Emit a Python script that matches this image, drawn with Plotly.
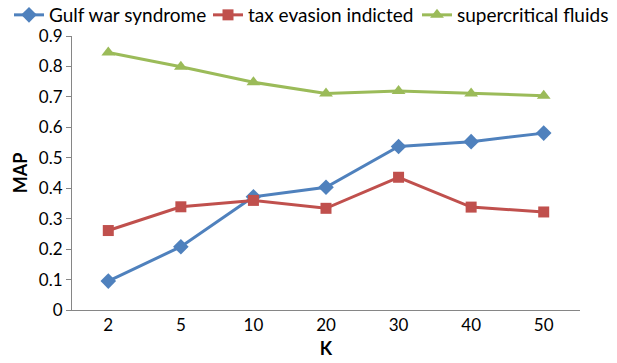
import plotly.graph_objects as go

k_labels = ["2", "5", "10", "20", "30", "40", "50"]
gulf_war = [0.095, 0.208, 0.372, 0.403, 0.537, 0.553, 0.581]
tax_evasion = [0.261, 0.339, 0.360, 0.334, 0.436, 0.338, 0.322]
supercritical = [0.846, 0.799, 0.748, 0.711, 0.719, 0.711, 0.704]

series = [
    ("Gulf war syndrome", gulf_war, "#4F81BD", "diamond", 12, "legend"),
    ("tax evasion indicted", tax_evasion, "#C0504D", "square", 11, "legend2"),
    ("supercritical fluids", supercritical, "#9BBB59", "triangle-up", 12, "legend3"),
]

font_family = "Lato, Open Sans, sans-serif"
W, H = 617, 363

fig = go.Figure()
for name, vals, color, symbol, size, leg in series:
    fig.add_trace(go.Scatter(
        x=k_labels, y=vals, name=name, mode="lines+markers",
        line=dict(color=color, width=3),
        marker=dict(symbol=symbol, size=size, color=color),
        legend=leg, showlegend=True,
    ))

# one legend box per series so the row sits on a single line
legend_left_px = [9, 208, 417]
legend_center_px = 15
legend_style = dict(
    orientation="h", y=1 - legend_center_px / H, xref="container",
    yref="container", xanchor="left", yanchor="middle",
    font=dict(size=19), itemwidth=30, bgcolor="rgba(0,0,0,0)",
)

fig.update_layout(
    width=W, height=H, showlegend=True,
    margin=dict(l=72, r=37, t=36, b=53, autoexpand=False),
    paper_bgcolor="white", plot_bgcolor="white",
    font=dict(family=font_family, size=17, color="#000000"),
    legend=dict(x=legend_left_px[0] / W, **legend_style),
    legend2=dict(x=legend_left_px[1] / W, **legend_style),
    legend3=dict(x=legend_left_px[2] / W, **legend_style),
    xaxis=dict(
        type="category", showgrid=False, showline=True, linecolor="#868686",
        linewidth=1, ticks="", tickfont=dict(size=17),
        title=dict(text="<b>K</b>", font=dict(size=18), standoff=7),
        range=[-0.5, 6.5],
    ),
    yaxis=dict(
        range=[0, 0.9], dtick=0.1, showgrid=False, showline=True,
        linecolor="#868686", linewidth=1, ticks="outside", ticklen=5,
        tickcolor="#868686", tickfont=dict(size=17), zeroline=False,
        title=dict(text="<b>MAP</b>", font=dict(size=18), standoff=6),
    ),
)

fig.write_html("out.html")
